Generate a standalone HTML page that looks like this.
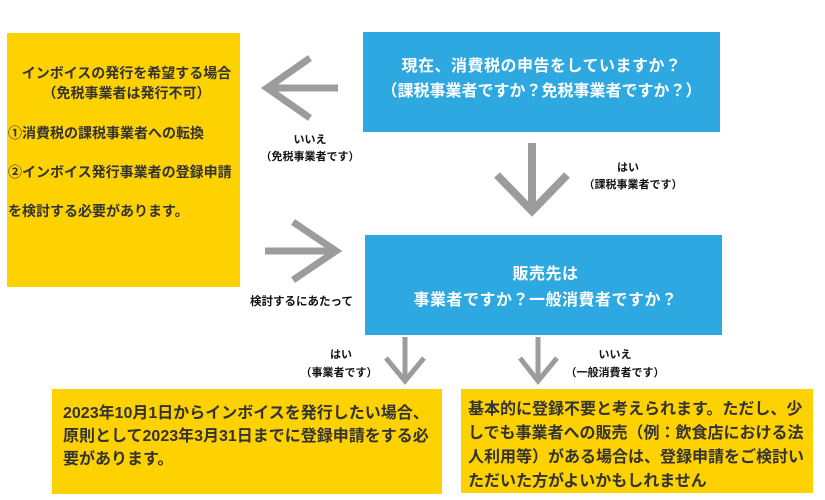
<!DOCTYPE html>
<html><head><meta charset="utf-8">
<style>
html,body{margin:0;padding:0;}
body{width:825px;height:500px;position:relative;background:#fff;overflow:hidden;font-family:"Liberation Sans","Noto Sans CJK JP",sans-serif;font-weight:bold;}
.box{position:absolute;}
.y{background:#fed100;}
.b{background:#2ea8e0;}
.t{position:absolute;white-space:nowrap;}
.lt{font-size:14px;line-height:20px;color:#333;}
.bt{font-size:16px;line-height:24px;color:#fff;letter-spacing:0.5px;text-align:center;}
.yt{font-size:16px;color:#333;}
.lb{font-size:11px;line-height:17px;color:#111;text-align:center;}
svg{position:absolute;left:0;top:0;}
</style></head><body>
<div class="box y" style="left:7px;top:33px;width:233px;height:254px;"></div>
<div class="box b" style="left:363px;top:32px;width:357px;height:100px;"></div>
<div class="box b" style="left:365px;top:235px;width:357px;height:100px;"></div>
<div class="box y" style="left:52px;top:389px;width:390px;height:105px;"></div>
<div class="box y" style="left:461px;top:389px;width:352px;height:104px;"></div>

<div class="t lt" style="left:10px;width:233px;text-align:center;top:63px;">インボイスの発行を希望する場合</div>
<div class="t lt" style="left:10px;width:233px;text-align:center;top:83px;">（免税事業者は発行不可）</div>
<div class="t lt" style="left:8px;top:123px;">①消費税の課税事業者への転換</div>
<div class="t lt" style="left:8px;top:162px;">②インボイス発行事業者の登録申請</div>
<div class="t lt" style="left:8px;top:201px;">を検討する必要があります。</div>

<div class="t bt" style="left:363px;width:357px;top:55px;">現在、消費税の申告をしていますか？</div>
<div class="t bt" style="left:363px;width:357px;top:80px;letter-spacing:0px;">（課税事業者ですか？免税事業者ですか？）</div>

<div class="t bt" style="left:367px;width:357px;top:263px;">販売先は</div>
<div class="t bt" style="left:367px;width:357px;top:289px;">事業者ですか？一般消費者ですか？</div>

<div class="t yt" style="left:63px;top:401.5px;line-height:23px;">2023年10月1日からインボイスを発行したい場合、</div>
<div class="t yt" style="left:63px;top:424.5px;line-height:23px;">原則として2023年3月31日までに登録申請をする必</div>
<div class="t yt" style="left:63px;top:447.5px;line-height:23px;">要があります。</div>

<div class="t yt" style="left:468px;top:398px;line-height:24px;">基本的に登録不要と考えられます。ただし、少</div>
<div class="t yt" style="left:468px;top:422px;line-height:24px;">しでも事業者への販売（例：飲食店における法</div>
<div class="t yt" style="left:468px;top:446px;line-height:24px;">人利用等）がある場合は、登録申請をご検討い</div>
<div class="t yt" style="left:468px;top:470px;line-height:24px;">ただいた方がよいかもしれません</div>

<div class="t lb" style="left:250px;width:120px;top:131.5px;">いいえ</div>
<div class="t lb" style="left:250px;width:120px;top:148.5px;">（免税事業者です）</div>
<div class="t lb" style="left:573px;width:110px;top:159.5px;">はい</div>
<div class="t lb" style="left:578px;width:110px;top:176.5px;">（課税事業者です）</div>
<div class="t lb" style="left:240px;width:123px;top:293.5px;font-size:11.5px;">検討するにあたって</div>
<div class="t lb" style="left:291px;width:100px;top:346.5px;">はい</div>
<div class="t lb" style="left:289px;width:100px;top:364.5px;">（事業者です）</div>
<div class="t lb" style="left:560px;width:110px;top:346.5px;">いいえ</div>
<div class="t lb" style="left:560px;width:110px;top:364.5px;">（一般消費者です）</div>

<svg width="825" height="500" viewBox="0 0 825 500">
<g stroke="#9c9c9c" fill="none" stroke-linejoin="miter" stroke-linecap="butt">
<line x1="338" y1="88" x2="268" y2="88" stroke-width="7"/>
<polyline points="310,58 267,88 310,118" stroke-width="7"/>
<line x1="265" y1="251" x2="336" y2="251" stroke-width="7"/>
<polyline points="293,222 336,251 293,280" stroke-width="7"/>
<line x1="532" y1="143" x2="532" y2="212" stroke-width="8"/>
<polyline points="497,175 532,211 567,175" stroke-width="8"/>
<line x1="405" y1="337" x2="405" y2="381" stroke-width="5"/>
<polyline points="386,358 405,381 424,358" stroke-width="5"/>
<line x1="538" y1="337" x2="538" y2="381" stroke-width="5"/>
<polyline points="520,358 538,381 557,358" stroke-width="5"/>
</g>
</svg>
</body></html>
